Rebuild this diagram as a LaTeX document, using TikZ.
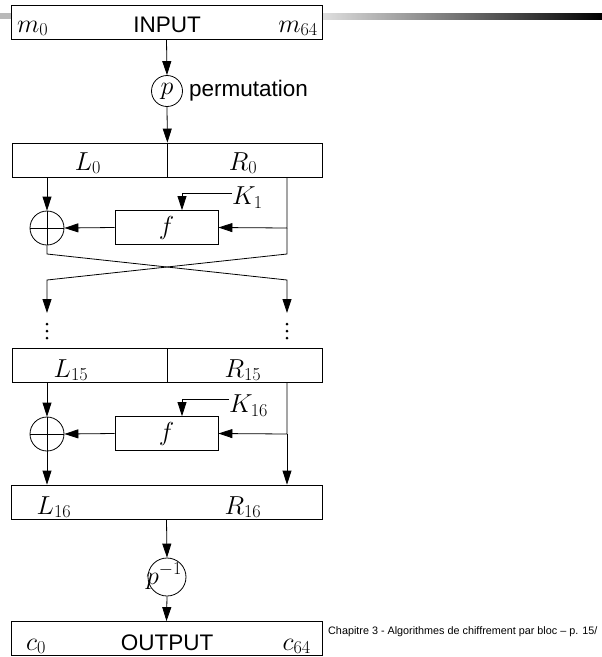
\RequirePackage{fix-cm}
\documentclass[tikz,border=0pt]{standalone}
\usepackage{fontspec}
\setsansfont{Liberation Sans}
\usetikzlibrary{arrows.meta, positioning}

\begin{document}
\begin{tikzpicture}[
    x=1pt, y=-1pt,
    font=\fontsize{26}{30}\selectfont,
    wide/.style={rectangle, draw, line width=0.8pt, minimum width=311pt, minimum height=34pt, inner sep=0pt},
    half/.style={rectangle, draw, line width=0.8pt, minimum width=155pt, minimum height=34pt, inner sep=0pt},
    func/.style={rectangle, draw, line width=0.8pt, minimum width=103pt, minimum height=34pt, inner sep=0pt},
    perm/.style={circle, draw, line width=0.8pt, minimum size=31pt, inner sep=0pt},
    xorc/.style={circle, draw, line width=0.8pt, minimum size=34pt, inner sep=0pt,
        path picture={\draw[line width=0.8pt]
            (path picture bounding box.north) -- (path picture bounding box.south)
            (path picture bounding box.west) -- (path picture bounding box.east);}},
    arrow/.style={-{Triangle[length=14pt, width=9pt]}, line width=0.8pt},
    wire/.style={line width=0.8pt},
    word/.style={font=\fontsize{22.5}{27}\selectfont\sffamily, inner sep=0pt},
    sym/.style={inner sep=0pt}
]
\useasboundingbox (0,0) rectangle (602,657);

% --- Barre de titre ---
\fill[gray!55] (0,13) rectangle (11,19);
\shade[left color=gray!25, right color=black] (322,13) rectangle (602,19);

% --- Entree et permutation ---
\node[wide] (input) at (166.5,22) {};
\node[sym, anchor=base west] (m0) at (17,32) {$m_0$};
\node[word, anchor=base] (intxt) at (167,32) {INPUT};
\node[sym, anchor=base east] (m64) at (318,32) {$m_{64}$};

\node[perm] (p) at (167,91) {$p$};
\node[word, right=6pt of p] (permtxt) {permutation};

% --- Tour 1 ---
\node[half] (L0) at (89.5,160) {};
\node[half] (R0) at (244.5,160) {};
\node[sym, anchor=base] (L0txt) at (88,170) {$L_0$};
\node[sym, anchor=base] (R0txt) at (243,170) {$R_0$};

\node[xorc] (x1) at (47,228) {};
\node[func] (f1) at (166.5,227.5) {$f$};
\node[sym, anchor=west] (k1) at (232,198) {$K_1$};
\coordinate (k1c) at (182,193);
\coordinate (r1) at (287,228);

\draw[arrow] (x1 |- L0.south) -- (x1.north);
\draw[arrow] (r1 |- R0.south) -- (r1) -- (f1.east);
\draw[arrow] (f1.west) -- (x1.east);
\draw[arrow] (k1.west |- k1c) -- (k1c) -- (k1c |- f1.north);

% croisement
\coordinate (cl) at (47,254);
\coordinate (cr) at (287,254);
\coordinate (dl) at (47,280);
\coordinate (dr) at (287,280);
\coordinate (el) at (47,313);
\coordinate (er) at (287,313);
\draw[arrow] (x1.south) -- (cl) -- (dr) -- (er);
\draw[arrow] (r1) -- (cr) -- (dl) -- (el);

% points de suspension
\foreach \xx in {47,287}
  \foreach \yy in {324,331,338}
    \fill (\xx,\yy) circle (1.5);

% --- Tour 16 ---
\node[half] (L15) at (89.5,365) {};
\node[half] (R15) at (244.5,365) {};
\node[sym, anchor=base] (L15txt) at (71,377) {$L_{15}$};
\node[sym, anchor=base] (R15txt) at (243,377) {$R_{15}$};

\node[xorc] (x2) at (47,434) {};
\node[func] (f2) at (166.5,433.5) {$f$};
\node[sym, anchor=west] (k16) at (229,406) {$K_{16}$};
\coordinate (k2c) at (182,399);
\coordinate (r2) at (287,434);

\node[wide] (out16) at (166.5,502) {};
\node[sym, anchor=base] (L16txt) at (54,514) {$L_{16}$};
\node[sym, anchor=base] (R16txt) at (243,514) {$R_{16}$};

\draw[arrow] (x2 |- L15.south) -- (x2.north);
\draw[arrow] (r2 |- R15.south) -- (r2) -- (f2.east);
\draw[arrow] (f2.west) -- (x2.east);
\draw[arrow] (k16.west |- k2c) -- (k2c) -- (k2c |- f2.north);
\draw[arrow] (x2.south) -- (x2 |- out16.north);
\draw[arrow] (r2) -- (r2 |- out16.north);

% --- Permutation inverse et sortie ---
\node[perm, minimum size=38pt] (pinv) at (167,577) {};
\node[sym] (pinvtxt) at (164,576) {$p^{-1}$};

\node[wide] (output) at (166.5,638.5) {};
\node[sym, anchor=base west] (c0) at (26,650) {$c_0$};
\node[word, anchor=base] (outtxt) at (167,650) {OUTPUT};
\node[sym, anchor=base east] (c64) at (311,650) {$c_{64}$};

\draw[arrow] (input.south) -- (p.north);
\draw[arrow] (p.south) -- (L0.north east);
\draw[arrow] (out16.south) -- (pinv.north);
\draw[arrow] (pinv.south) -- (output.north);

% --- Pied de page ---
\node[anchor=west, inner sep=0pt, font=\fontsize{10.8}{13}\selectfont\sffamily] (foot)
    at (328,632) {Chapitre 3 - Algorithmes de chiffrement par bloc -- p. 15/};

\end{tikzpicture}
\end{document}
